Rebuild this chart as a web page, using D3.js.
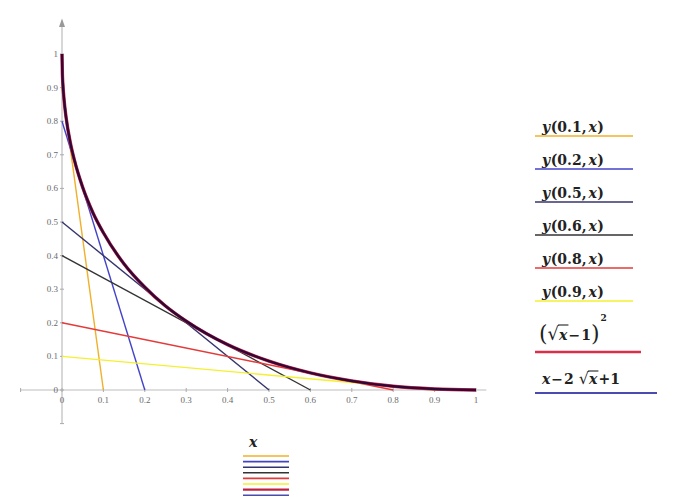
<!DOCTYPE html>
<html><head><meta charset="utf-8">
<script src="https://cdn.jsdelivr.net/npm/d3@7"></script>
<style>body{margin:0;background:#fff}svg{display:block}</style>
</head><body>
<svg id="c" width="679" height="502"></svg>
<script>
// Data
const lineParams = [0.1, 0.2, 0.5, 0.6, 0.8, 0.9];           // y(a,x): from (0,1-a) to (a,0)
const lineStart = [0.9, 0.8, 0.5, 0.4, 0.2, 0.1];             // y at x=0
const lineEnd = [0.1, 0.2, 0.5, 0.6, 0.8, 0.9];               // x at y=0
const lineColors = ["#f0b02a", "#4343c8", "#34346e", "#333333", "#e53a3a", "#f4f030"];
const lineLabels = ["0.1", "0.2", "0.5", "0.6", "0.8", "0.9"];
const curveX = [0, 0.001, 0.002, 0.005, 0.01, 0.02, 0.03, 0.05, 0.075, 0.1, 0.15, 0.2, 0.25, 0.3, 0.4, 0.5, 0.6, 0.7, 0.8, 0.9, 1];
const curveY = [1, 0.938, 0.913, 0.864, 0.81, 0.737, 0.684, 0.603, 0.527, 0.468, 0.375, 0.306, 0.25, 0.205, 0.135, 0.086, 0.051, 0.027, 0.011, 0.003, 0];
const curveColors = ["#d8304a", "#300838"];
const xTicks = [0, 0.1, 0.2, 0.3, 0.4, 0.5, 0.6, 0.7, 0.8, 0.9, 1];
const yTicks = [0, 0.1, 0.2, 0.3, 0.4, 0.5, 0.6, 0.7, 0.8, 0.9, 1];

const svg = d3.select("#c");
const x = d3.scaleLinear().domain([0, 1]).range([62, 476]);
const y = d3.scaleLinear().domain([0, 1]).range([390, 54]);
const axisColor = "#bdbdbd";
const labFont = "'Liberation Serif', serif";
const mathFont = "'DejaVu Serif', serif";

// axes lines
svg.append("line").attr("x1", x(-0.1)).attr("x2", x(1.025)).attr("y1", y(0)).attr("y2", y(0))
  .attr("stroke", axisColor).attr("stroke-width", 1.2);
svg.append("line").attr("x1", x(0)).attr("x2", x(0)).attr("y1", y(-0.1)).attr("y2", y(1.1))
  .attr("stroke", axisColor).attr("stroke-width", 1.2);
svg.append("path").attr("d", `M${x(0)-3},${y(1.08)} L${x(0)},${y(1.1)-2} L${x(0)+3},${y(1.08)} Z`)
  .attr("fill", "#999");

// ticks
const xt = xTicks.concat([-0.1]);
svg.selectAll(".xt").data(xt).enter().append("line")
  .attr("x1", d => x(d)).attr("x2", d => x(d)).attr("y1", y(0) - 2).attr("y2", y(0) + 2)
  .attr("stroke", "#aaa");
const yt = yTicks.concat([-0.1]);
svg.selectAll(".yt").data(yt).enter().append("line")
  .attr("x1", x(0) - 2).attr("x2", x(0) + 2).attr("y1", d => y(d)).attr("y2", d => y(d))
  .attr("stroke", "#aaa");
svg.selectAll(".xl").data(xTicks).enter().append("text")
  .attr("x", d => x(d)).attr("y", y(0) + 13).attr("text-anchor", "middle")
  .attr("font-family", labFont).attr("font-size", 9).attr("fill", "#6a6a6a")
  .text(d => d3.format("~g")(d));
svg.selectAll(".yl").data(yTicks).enter().append("text")
  .attr("x", x(0) - 4).attr("y", d => y(d) + 3).attr("text-anchor", "end")
  .attr("font-family", labFont).attr("font-size", 9).attr("fill", "#6a6a6a")
  .text(d => d3.format("~g")(d));

// straight lines
lineParams.forEach((a, i) => {
  svg.append("path")
    .datum([[0, lineStart[i]], [lineEnd[i], 0]])
    .attr("d", d3.line().x(d => x(d[0])).y(d => y(d[1])))
    .attr("fill", "none").attr("stroke", lineColors[i]).attr("stroke-width", 1.4);
});

// curves
const pts = curveX.map((v, i) => [v, curveY[i]]);
const cl = d3.line().x(d => x(d[0])).y(d => y(d[1])).curve(d3.curveMonotoneX);
svg.append("path").datum(pts).attr("d", cl).attr("fill", "none")
  .attr("stroke", curveColors[0]).attr("stroke-width", 3.4);
svg.append("path").datum(pts).attr("d", cl).attr("fill", "none")
  .attr("stroke", curveColors[1]).attr("stroke-width", 2.5);

// sequential math text helper
function mathText(g, x0, y0, parts) {
  let cx = x0;
  const pos = [];
  parts.forEach(p => {
    const t = g.append("text").attr("x", cx + (p.dx || 0)).attr("y", y0 + (p.dy || 0))
      .attr("font-family", mathFont).attr("font-size", p.size || 14)
      .attr("font-weight", p.weight || "bold").attr("font-style", p.italic ? "italic" : "normal")
      .attr("fill", "#222").text(p.t);
    const w = t.node().getComputedTextLength();
    pos.push([cx + (p.dx || 0), w]);
    cx += w + (p.dx || 0) + (p.after || 0);
  });
  return pos;
}

const lg = svg.append("g");
lineLabels.forEach((lab, i) => {
  const ty = 132 + i * 33;
  mathText(lg, 542, ty, [
    {t: "y", italic: true, after: 0.5},
    {t: "(" + lab, after: 0},
    {t: ",", after: 2},
    {t: "x", italic: true, after: 0.5},
    {t: ")"}
  ]);
  lg.append("line").attr("x1", 535).attr("x2", 633).attr("y1", ty + 4).attr("y2", ty + 4)
    .attr("stroke", lineColors[i]).attr("stroke-width", 1.4);
});
// (sqrt x - 1)^2
const p7 = mathText(lg, 539, 340, [
  {t: "(", size: 22, weight: "normal", dy: 1, after: 0},
  {t: "√", size: 18, weight: "normal", after: 0},
  {t: "x", italic: true, after: 1},
  {t: "−", after: 1},
  {t: "1", after: 0},
  {t: ")", size: 22, weight: "normal", dy: 1, after: 1},
  {t: "2", size: 9, dy: -19}
]);
lg.append("line").attr("x1", p7[2][0] - 1).attr("x2", p7[2][0] + p7[2][1] + 1)
  .attr("y1", 325).attr("y2", 325).attr("stroke", "#222").attr("stroke-width", 1.1);
lg.append("line").attr("x1", 535).attr("x2", 641).attr("y1", 352).attr("y2", 352)
  .attr("stroke", curveColors[0]).attr("stroke-width", 2.5);
// x - 2 sqrt x + 1
const p8 = mathText(lg, 542, 384, [
  {t: "x", italic: true, after: 1},
  {t: "−", after: 1},
  {t: "2", after: 5},
  {t: "√", size: 16, weight: "normal", after: 0},
  {t: "x", italic: true, after: 1},
  {t: "+", after: 0},
  {t: "1"}
]);
lg.append("line").attr("x1", p8[4][0] - 1).attr("x2", p8[4][0] + p8[4][1] + 1)
  .attr("y1", 371).attr("y2", 371).attr("stroke", "#222").attr("stroke-width", 1.1);
lg.append("line").attr("x1", 535).attr("x2", 657).attr("y1", 393).attr("y2", 393)
  .attr("stroke", "#4a4ab0").attr("stroke-width", 1.8);

// bottom legend
svg.append("text").attr("x", 249).attr("y", 447).attr("font-family", mathFont)
  .attr("font-size", 14).attr("font-weight", "bold").attr("font-style", "italic").attr("fill", "#222").text("x");
const bColors = lineColors.concat(["#c02040", "#4a4ab0"]);
bColors.forEach((c, i) => {
  svg.append("line").attr("x1", 243).attr("x2", 289)
    .attr("y1", 456 + i * 5.6).attr("y2", 456 + i * 5.6)
    .attr("stroke", c).attr("stroke-width", i === 6 ? 2.4 : 1.6);
});
</script>
</body></html>
